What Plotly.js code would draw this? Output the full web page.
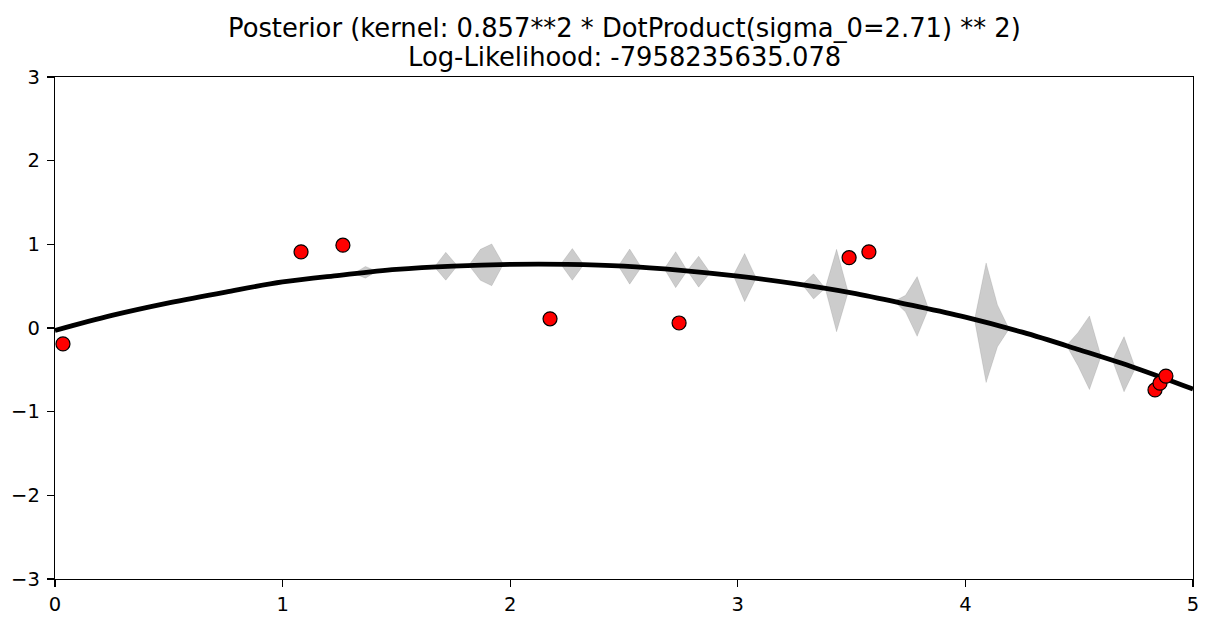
<!DOCTYPE html>
<html>
<head>
<meta charset="utf-8">
<script src="https://cdn.plot.ly/plotly-3.0.1.min.js"></script>
<style>html,body{margin:0;padding:0;background:#fff;}#chart{width:1206px;height:617px;}</style>
</head>
<body>
<div id="chart"></div>
<script>
// Posterior mean
const meanX = [0, 0.25, 0.5, 0.75, 1.0, 1.25, 1.5, 1.75, 2.0, 2.25, 2.5, 2.75, 3.0, 3.25, 3.5, 3.75, 4.0, 4.25, 4.5, 4.75, 5.0];
const meanY = [-0.03, 0.15, 0.30, 0.43, 0.55, 0.63, 0.70, 0.74, 0.76, 0.76, 0.74, 0.69, 0.62, 0.53, 0.42, 0.28, 0.13, -0.05, -0.26, -0.48, -0.73];

// Std band spikes (segments separated by null)
const bandX  = [1.313, 1.364, 1.414, null,
                1.667, 1.717, 1.768, null,
                1.818, 1.869, 1.919, 1.970, null,
                2.222, 2.273, 2.323, null,
                2.475, 2.525, 2.576, null,
                2.677, 2.727, 2.778, null,
                2.778, 2.828, 2.879, null,
                2.980, 3.030, 3.081, null,
                3.283, 3.333, 3.384, null,
                3.384, 3.434, 3.485, null,
                3.687, 3.737, 3.788, 3.838, null,
                4.040, 4.091, 4.141, 4.192, null,
                4.444, 4.495, 4.545, 4.596, null,
                4.646, 4.697, 4.747];
const bandHi = [0.652, 0.736, 0.679, null,
                0.730, 0.905, 0.744, null,
                0.750, 0.940, 1.005, 0.762, null,
                0.763, 0.950, 0.757, null,
                0.741, 0.944, 0.726, null,
                0.707, 0.912, 0.685, null,
                0.685, 0.858, 0.659, null,
                0.629, 0.890, 0.596, null,
                0.519, 0.647, 0.474, null,
                0.474, 0.941, 0.427, null,
                0.320, 0.391, 0.615, 0.230, null,
                0.098, 0.778, 0.276, -0.011, null,
                -0.210, -0.053, 0.144, -0.341, null,
                -0.386, -0.103, -0.480];
const bandLo = [0.652, 0.596, 0.679, null,
                0.730, 0.571, 0.744, null,
                0.750, 0.570, 0.505, 0.762, null,
                0.763, 0.570, 0.757, null,
                0.741, 0.524, 0.726, null,
                0.707, 0.482, 0.685, null,
                0.685, 0.488, 0.659, null,
                0.629, 0.315, 0.596, null,
                0.519, 0.347, 0.474, null,
                0.474, -0.045, 0.427, null,
                0.320, 0.191, -0.100, 0.230, null,
                0.098, -0.652, -0.224, -0.011, null,
                -0.210, -0.453, -0.736, -0.341, null,
                -0.386, -0.763, -0.480];

// Observations
const obsX = [0.035, 1.081, 1.265, 2.175, 2.742, 3.489, 3.576, 4.833, 4.855, 4.881];
const obsY = [-0.19, 0.91, 0.99, 0.11, 0.06, 0.84, 0.91, -0.74, -0.66, -0.575];

const titleLine1 = "Posterior (kernel: 0.857**2 * DotProduct(sigma_0=2.71) ** 2)";
const titleLine2 = "Log-Likelihood: -7958235635.078";

// build band polygons
const polyX = [], polyY = [];
let seg = [];
function flush() {
  if (!seg.length) return;
  if (polyX.length) { polyX.push(null); polyY.push(null); }
  seg.forEach(i => { polyX.push(bandX[i]); polyY.push(bandHi[i]); });
  seg.slice().reverse().forEach(i => { polyX.push(bandX[i]); polyY.push(bandLo[i]); });
  seg = [];
}
for (let i = 0; i < bandX.length; i++) {
  if (bandX[i] === null) flush(); else seg.push(i);
}
flush();

const traces = [
  {x: meanX, y: meanY, mode: 'lines', line: {color: '#000', width: 4.8, shape: 'spline', smoothing: 1}, hoverinfo: 'skip'},
  {x: polyX, y: polyY, mode: 'lines', fill: 'toself', fillcolor: 'rgba(0,0,0,0.2)', line: {color: 'rgba(0,0,0,0.12)', width: 0.8}, connectgaps: false, hoverinfo: 'skip'},
  {x: obsX, y: obsY, mode: 'markers', marker: {color: '#ff0000', size: 14, line: {color: '#000', width: 1.2}}}
];

const axisCommon = {
  showgrid: false, zeroline: false, showline: true, mirror: true,
  linecolor: '#000', linewidth: 1.3, ticks: 'outside', ticklen: 7, tickwidth: 1.3, tickcolor: '#000',
  tickfont: {family: 'DejaVu Sans', size: 19.5, color: '#000'}
};

const titleFont = {family: 'DejaVu Sans', size: 25.8, color: '#000'};

const layout = {
  width: 1206, height: 617,
  paper_bgcolor: '#fff', plot_bgcolor: '#fff',
  showlegend: false,
  margin: {l: 55, r: 13, t: 77, b: 38},
  font: {family: 'DejaVu Sans', color: '#000'},
  annotations: [
    {text: titleLine1, xref: 'paper', yref: 'paper', x: 0.5, y: 1.0976, xanchor: 'center', yanchor: 'middle', showarrow: false, font: titleFont},
    {text: titleLine2, xref: 'paper', yref: 'paper', x: 0.5, y: 1.0398, xanchor: 'center', yanchor: 'middle', showarrow: false, font: titleFont}
  ],
  xaxis: Object.assign({}, axisCommon, {ticklabelstandoff: 0, range: [0, 5], tickvals: [0, 1, 2, 3, 4, 5], ticktext: ['0', '1', '2', '3', '4', '5']}),
  yaxis: Object.assign({}, axisCommon, {ticklabelstandoff: 3, range: [-3, 3], tickvals: [-3, -2, -1, 0, 1, 2, 3], ticktext: ['\u22123', '\u22122', '\u22121', '0', '1', '2', '3']})
};

Plotly.newPlot('chart', traces, layout, {displayModeBar: false, staticPlot: true});
</script>
</body>
</html>
